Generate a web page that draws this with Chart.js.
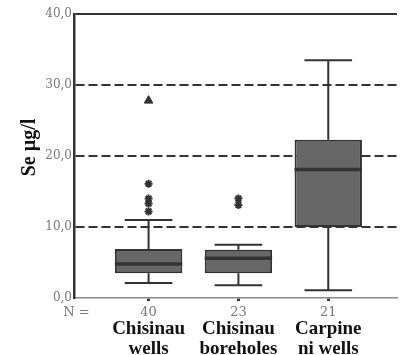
<!DOCTYPE html>
<html>
<head>
<meta charset="utf-8">
<script src="https://cdn.jsdelivr.net/npm/chart.js@4.4.1/dist/chart.umd.min.js"></script>
<style>
  html, body { margin: 0; padding: 0; background: #fff; }
  #wrap { position: relative; width: 403px; height: 355px; }
</style>
</head>
<body>
<div id="wrap"><canvas id="box-chart"></canvas></div>
<script>
// groups, two-line names as printed under the axis
const groupLines = [['Chisinau', 'wells'], ['Chisinau', 'boreholes'], ['Carpine', 'ni wells']];
const groupN = [40, 23, 21];

// box plot summary, Se in µg/l
const whiskerLow = [2.1, 1.8, 1.1];
const quart1 = [3.5, 3.5, 10.0];
const medians = [4.8, 5.6, 18.1];
const quart3 = [6.9, 6.8, 22.3];
const whiskerHigh = [11.0, 7.5, 33.5];

// extreme values (stars) and outliers (triangle)
const extremes = [[16.1, 14.0, 13.3, 12.2], [14.0, 13.1], []];
const outliers = [[27.8], [], []];

const yTicks = [0, 10, 20, 30, 40];

const COLORS = {
    dark: '#333333',
    box: '#676767',
    tick: '#777777',
    axis: '#8a8a8a',
    text: '#111111'
};

const BOX_HALF = 0.375;
const CAP_HALF = 0.265;

const boxPlotPlugin = {
    id: 'boxParts',
    afterDatasetsDraw(chart) {
        const { ctx, scales: { x, y } } = chart;
        ctx.save();
        ctx.strokeStyle = COLORS.dark;
        ctx.lineCap = 'butt';
        medians.forEach((m, i) => {
            const cx = x.getPixelForValue(i + 1);
            const cap = x.getPixelForValue(i + 1 + CAP_HALF) - cx;
            const half = x.getPixelForValue(i + 1 + BOX_HALF) - cx;
            ctx.lineWidth = 2;
            ctx.beginPath();
            ctx.moveTo(cx, y.getPixelForValue(whiskerLow[i]));
            ctx.lineTo(cx, y.getPixelForValue(quart1[i]));
            ctx.moveTo(cx, y.getPixelForValue(quart3[i]));
            ctx.lineTo(cx, y.getPixelForValue(whiskerHigh[i]));
            ctx.moveTo(cx - cap, y.getPixelForValue(whiskerLow[i]));
            ctx.lineTo(cx + cap, y.getPixelForValue(whiskerLow[i]));
            ctx.moveTo(cx - cap, y.getPixelForValue(whiskerHigh[i]));
            ctx.lineTo(cx + cap, y.getPixelForValue(whiskerHigh[i]));
            ctx.stroke();
            ctx.lineWidth = 3.5;
            ctx.beginPath();
            ctx.moveTo(cx - half, y.getPixelForValue(m));
            ctx.lineTo(cx + half, y.getPixelForValue(m));
            ctx.stroke();
        });
        ctx.restore();
    },
    afterDraw(chart) {
        const { ctx, scales: { x } } = chart;
        ctx.save();
        // y title
        ctx.fillStyle = COLORS.text;
        ctx.font = 'bold 20px "Liberation Serif"';
        ctx.textAlign = 'center';
        ctx.textBaseline = 'alphabetic';
        ctx.translate(35, 147.5);
        ctx.rotate(-Math.PI / 2);
        ctx.fillText('Se µg/l', 0, 0);
        ctx.setTransform(1, 0, 0, 1, 0, 0);

        // counts
        ctx.fillStyle = COLORS.tick;
        ctx.font = '13px "DejaVu Serif"';
        ctx.fillText('N =', 76.5, 316);
        groupN.forEach((n, i) => ctx.fillText(String(n), x.getPixelForValue(i + 1), 316));

        // group names
        ctx.fillStyle = COLORS.text;
        ctx.font = 'bold 19px "Liberation Serif"';
        groupLines.forEach((lines, i) => {
            const cx = x.getPixelForValue(i + 1);
            ctx.fillText(lines[0], cx, 334);
            ctx.fillText(lines[1], cx, 354);
        });
        ctx.restore();
    }
};

const ctx = document.getElementById('box-chart').getContext('2d');
new Chart(ctx, {
    type: 'bar',
    data: {
        datasets: [
            {
                type: 'bar',
                data: quart1.map((q, i) => ({ x: i + 1, y: [q, quart3[i]] })),
                backgroundColor: COLORS.box,
                borderColor: COLORS.dark,
                borderWidth: 2,
                borderSkipped: false,
                categoryPercentage: 1,
                barPercentage: 0.75
            },
            {
                type: 'scatter',
                data: extremes.flatMap((vals, i) => vals.map(v => ({ x: i + 1, y: v }))),
                pointStyle: 'star',
                radius: 4,
                borderWidth: 2,
                borderColor: COLORS.dark,
                backgroundColor: COLORS.dark
            },
            {
                type: 'scatter',
                data: outliers.flatMap((vals, i) => vals.map(v => ({ x: i + 1, y: v }))),
                pointStyle: 'triangle',
                radius: 5,
                borderWidth: 1,
                borderColor: COLORS.dark,
                backgroundColor: COLORS.dark
            }
        ]
    },
    options: {
        responsive: true,
        maintainAspectRatio: false,
        animation: false,
        layout: { padding: { top: 14, right: 0, left: 0, bottom: 0 } },
        plugins: { legend: { display: false }, tooltip: { enabled: false } },
        scales: {
            x: {
                type: 'linear',
                min: 0.17,
                max: 3.765,
                offset: false,
                afterBuildTicks: s => { s.ticks = groupN.map((n, i) => ({ value: i + 1 })); },
                afterFit: s => { s.height = 57; },
                ticks: { display: false },
                grid: { drawOnChartArea: false, drawTicks: true, tickLength: 3, tickWidth: 3, tickColor: COLORS.dark, offset: false },
                border: { color: COLORS.axis, width: 1.5 }
            },
            y: {
                min: 0,
                max: 40,
                afterBuildTicks: s => { s.ticks = yTicks.map(v => ({ value: v })); },
                afterFit: s => { s.width = 74; },
                ticks: {
                    padding: 2,
                    color: COLORS.tick,
                    font: { family: '"DejaVu Serif"', size: 12 },
                    callback: v => v.toFixed(1).replace('.', ',')
                },
                grid: {
                    drawTicks: false,
                    lineWidth: 2,
                    color: c => (c.tick && c.tick.value > 0) ? COLORS.dark : 'rgba(0,0,0,0)'
                },
                border: {
                    color: COLORS.dark,
                    width: 2.5,
                    dash: c => (c.tick && c.tick.value === 40) ? [] : [9, 4]
                }
            }
        }
    },
    plugins: [boxPlotPlugin]
});
</script>
</body>
</html>
